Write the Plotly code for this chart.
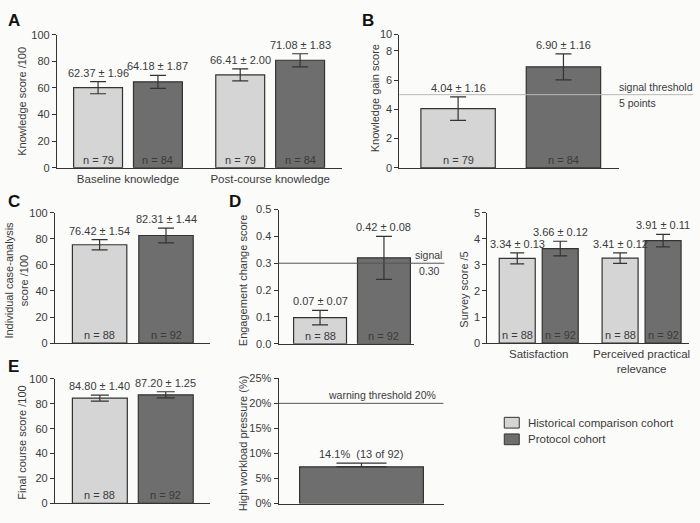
import plotly.graph_objects as go

W, H = 700, 523

# =========================
# Data
# =========================
cohorts = ["Historical comparison cohort", "Protocol cohort"]

# A - knowledge score /100
a_groups = ["Baseline knowledge", "Post-course knowledge"]
a_hist = [60.2, 69.8]
a_hist_err = [4.6, 4.5]
a_prot = [64.6, 80.8]
a_prot_err = [4.9, 4.9]
a_hist_lbl = ["62.37 ± 1.96", "66.41 ± 2.00"]
a_prot_lbl = ["64.18 ± 1.87", "71.08 ± 1.83"]
a_n_hist = [79, 79]
a_n_prot = [84, 84]

# B - knowledge gain score
b_hist = [4.05]
b_hist_err = [0.8]
b_prot = [6.9]
b_prot_err = [0.89]
b_hist_lbl = ["4.04 ± 1.16"]
b_prot_lbl = ["6.90 ± 1.16"]
b_n_hist = [79]
b_n_prot = [84]
b_threshold = 5

# C - individual case-analysis score /100
c_hist = [75.5]
c_hist_err = [4.0]
c_prot = [82.6]
c_prot_err = [5.6]
c_hist_lbl = ["76.42 ± 1.54"]
c_prot_lbl = ["82.31 ± 1.44"]
c_n_hist = [88]
c_n_prot = [92]

# D - engagement change score
d_hist = [0.097]
d_hist_err = [0.027]
d_prot = [0.32]
d_prot_err = [0.08]
d_hist_lbl = ["0.07 ± 0.07"]
d_prot_lbl = ["0.42 ± 0.08"]
d_n_hist = [88]
d_n_prot = [92]
d_threshold = 0.30

# D (right) - survey score /5
s_groups = ["Satisfaction", "Perceived practical<br>relevance"]
s_hist = [3.25, 3.26]
s_hist_err = [0.21, 0.2]
s_prot = [3.63, 3.93]
s_prot_err = [0.28, 0.24]
s_hist_lbl = ["3.34 ± 0.13", "3.41 ± 0.12"]
s_prot_lbl = ["3.66 ± 0.12", "3.91 ± 0.11"]
s_n_hist = [88, 88]
s_n_prot = [92, 92]

# E - final course score /100
e_hist = [84.6]
e_hist_err = [2.4]
e_prot = [87.2]
e_prot_err = [2.5]
e_hist_lbl = ["84.80 ± 1.40"]
e_prot_lbl = ["87.20 ± 1.25"]
e_n_hist = [88]
e_n_prot = [92]

# E (right) - high workload pressure (%)
w_prot = [7.34]
w_prot_err = [0.75]
w_prot_lbl = ["14.1%  (13 of 92)"]
w_threshold = 20

# =========================
# Styling
# =========================
FONT = "Liberation Sans, Arial, sans-serif"
TXT = "#3a3a3a"
EDGE = "#333333"
C_HIST = "#d5d5d5"
C_PROT = "#6e6e6e"
BG = "#fbfbfa"
LBL = 11     # value labels above bars
NOTE = 10.5  # threshold notes


def px(x):
    return x / W


def py(y):
    return (H - y) / H


fig = go.Figure()
layout = {}


def ax_names(i):
    return ("x" if i == 1 else f"x{i}"), ("y" if i == 1 else f"y{i}")


def setup_axes(i, xpx, ypx, xrange, yrange, ticks=None, ticktext=None,
               tickvals=None, yticktext=None):
    xa = dict(domain=[px(xpx[0]), px(xpx[1])], range=xrange, showline=True,
              linecolor=EDGE, linewidth=1, showgrid=False, zeroline=False,
              ticks="", fixedrange=True,
              tickfont=dict(size=11.5, color=TXT, family=FONT))
    if ticks is not None:
        xa.update(tickmode="array", tickvals=ticks, ticktext=ticktext)
    else:
        xa.update(showticklabels=False)
    ya = dict(domain=[py(ypx[1]), py(ypx[0])], range=yrange, showline=True,
              linecolor=EDGE, linewidth=1, showgrid=False, zeroline=False,
              ticks="outside", ticklen=4, tickcolor=EDGE, fixedrange=True,
              tickfont=dict(size=11, color=TXT, family=FONT))
    if tickvals is not None:
        ya.update(tickmode="array", tickvals=tickvals, ticktext=yticktext)
    xn, yn = ax_names(i)
    layout["xaxis" if i == 1 else f"xaxis{i}"] = dict(xa, anchor=yn)
    layout["yaxis" if i == 1 else f"yaxis{i}"] = dict(ya, anchor=xn)


def bars(i, ys, errs, lbls, ns, color, off, w, cap, lo_errs=None):
    xn, yn = ax_names(i)
    xs = list(range(len(ys)))
    ed = dict(type="data", array=errs, color=EDGE, thickness=1.2, width=cap)
    if lo_errs is not None:
        ed.update(symmetric=False, arrayminus=lo_errs)
    fig.add_trace(go.Bar(
        x=xs, y=ys, width=w, offset=off,
        marker=dict(color=color, line=dict(color=EDGE, width=1.2)),
        error_y=ed, xaxis=xn, yaxis=yn, showlegend=False, hoverinfo="skip"
    ))
    for x, y, e, t, n in zip(xs, ys, errs, lbls, ns):
        cx = x + off + w / 2
        fig.add_annotation(x=cx, y=y + e, xref=xn, yref=yn, text=t,
                           showarrow=False, yanchor="bottom", yshift=1,
                           font=dict(size=LBL, color=TXT, family=FONT))
        if n is not None:
            fig.add_annotation(x=cx, y=0, xref=xn, yref=yn, text=f"n = {n}",
                               showarrow=False, yanchor="bottom", yshift=0,
                               font=dict(size=11, color=TXT, family=FONT))


def pair(i, hist, hist_err, hist_lbl, n_hist, prot, prot_err, prot_lbl, n_prot,
         w, hg, cap=8):
    bars(i, hist, hist_err, hist_lbl, n_hist, C_HIST, -hg - w, w, cap)
    bars(i, prot, prot_err, prot_lbl, n_prot, C_PROT, hg, w, cap)


def ytitle(text, x, y):
    fig.add_annotation(xref="paper", yref="paper", x=px(x), y=py(y), text=text,
                       textangle=-90, showarrow=False, xanchor="center",
                       yanchor="middle",
                       font=dict(size=11, color=TXT, family=FONT))


def letter(text, x, y):
    fig.add_annotation(xref="paper", yref="paper", x=px(x), y=py(y),
                       text=f"<b>{text}</b>", showarrow=False, xanchor="left",
                       yanchor="middle",
                       font=dict(size=17, color="#111111", family=FONT))


def threshold(i, value, x0, x1, color):
    _, yn = ax_names(i)
    fig.add_shape(type="line", xref="paper", yref=yn, x0=px(x0), x1=px(x1),
                  y0=value, y1=value, line=dict(color=color, width=1))


def note(i, value, x, text, xanchor, yanchor):
    _, yn = ax_names(i)
    fig.add_annotation(xref="paper", yref=yn, x=px(x), y=value, text=text,
                       showarrow=False, xanchor=xanchor, yanchor=yanchor,
                       yshift=0, font=dict(size=NOTE, color=TXT, family=FONT))


# =========================
# Panel A
# =========================
setup_axes(1, (57, 342), (29.4, 165.5), [-0.5, 1.502], [0, 100],
           ticks=[0, 1], ticktext=a_groups, tickvals=[0, 20, 40, 60, 80, 100],
           yticktext=["0", "20", "40", "60", "80", "100"])
pair(1, a_hist, a_hist_err, a_hist_lbl, a_n_hist,
     a_prot, a_prot_err, a_prot_lbl, a_n_prot, w=0.344, hg=0.0386)
ytitle("Knowledge score /100", 22, 97)
letter("A", 6, 15)

# =========================
# Panel B
# =========================
setup_axes(2, (400, 620), (29.3, 165.7), [-1.115, 1.085], [0, 9.1],
           tickvals=[0, 2, 4, 6, 8, 9.1], yticktext=["0", "2", "4", "6", "8", "10"])
pair(2, b_hist, b_hist_err, b_hist_lbl, b_n_hist,
     b_prot, b_prot_err, b_prot_lbl, b_n_prot, w=0.745, hg=0.155)
threshold(2, b_threshold, 400, 694, "#b8b8b8")
note(2, b_threshold, 618, "signal threshold", "left", "bottom")
note(2, b_threshold, 618, "5 points", "left", "top")
ytitle("Knowledge gain score", 375, 94)
letter("B", 361, 15)

# =========================
# Panel C
# =========================
setup_axes(3, (55, 210), (211.7, 345), [-0.78, 0.77], [0, 100],
           tickvals=[0, 20, 40, 60, 80, 100],
           yticktext=["0", "20", "40", "60", "80", "100"])
pair(3, c_hist, c_hist_err, c_hist_lbl, c_n_hist,
     c_prot, c_prot_err, c_prot_lbl, c_n_prot, w=0.545, hg=0.06)
ytitle("Individual case-analysis<br>score /100", 16, 280)
letter("C", 6, 200)

# =========================
# Panel D (engagement)
# =========================
setup_axes(4, (279, 415), (208.3, 345.7), [-0.735, 0.625], [0, 0.5],
           tickvals=[0, 0.1, 0.2, 0.3, 0.4, 0.5],
           yticktext=["0.0", "0.1", "0.2", "0.3", "0.4", "0.5"])
pair(4, d_hist, d_hist_err, d_hist_lbl, d_n_hist,
     d_prot, d_prot_err, d_prot_lbl, d_n_prot, w=0.53, hg=0.055)
threshold(4, d_threshold, 279, 445, "#555555")
note(4, d_threshold, 429, "signal", "center", "bottom")
note(4, d_threshold, 430, f"{d_threshold:.2f}", "center", "top")
ytitle("Engagement change score", 243, 281)
letter("D", 227, 200)

# =========================
# Panel D (survey)
# =========================
setup_axes(5, (488, 690), (211.7, 345), [-0.5, 1.461], [0, 5],
           ticks=[0, 1], ticktext=s_groups, tickvals=[0, 1, 2, 3, 4, 5],
           yticktext=["0", "1", "2", "3", "4", "5"])
pair(5, s_hist, s_hist_err, s_hist_lbl, s_n_hist,
     s_prot, s_prot_err, s_prot_lbl, s_n_prot, w=0.35, hg=0.034, cap=7)
ytitle("Survey score /5", 465, 290)

# =========================
# Panel E (final score)
# =========================
setup_axes(6, (55, 210), (381.7, 509), [-0.78, 0.77], [0, 100],
           tickvals=[0, 20, 40, 60, 80, 100],
           yticktext=["0", "20", "40", "60", "80", "100"])
pair(6, e_hist, e_hist_err, e_hist_lbl, e_n_hist,
     e_prot, e_prot_err, e_prot_lbl, e_n_prot, w=0.55, hg=0.055, cap=9)
ytitle("Final course score /100", 22, 447)
letter("E", 6, 369)

# =========================
# Panel E (workload)
# =========================
setup_axes(7, (279, 445), (381, 509.3), [-0.83, 0.83], [0, 25],
           tickvals=[0, 5, 10, 15, 20, 25],
           yticktext=["0%", "5%", "10%", "15%", "20%", "25%"])
bars(7, w_prot, w_prot_err, w_prot_lbl, [None], C_PROT, -0.62, 1.24, 25,
     lo_errs=[0])
threshold(7, w_threshold, 279, 444, "#555555")
note(7, w_threshold, 439, f"warning threshold {w_threshold}%", "right", "bottom")
ytitle("High workload pressure (%)", 243, 448)

# =========================
# Legend (drawn by hand)
# =========================
for k, (name, col) in enumerate(zip(cohorts, [C_HIST, C_PROT])):
    top = 421 + k * 17
    fig.add_shape(type="rect", xref="paper", yref="paper",
                  x0=px(505), x1=px(520), y0=py(top + 11), y1=py(top),
                  fillcolor=col, line=dict(color=EDGE, width=1))
    fig.add_annotation(xref="paper", yref="paper", x=px(527), y=py(top + 5.5),
                       text=name, showarrow=False, xanchor="left",
                       yanchor="middle",
                       font=dict(size=11.5, color=TXT, family=FONT))

fig.update_layout(
    **layout,
    width=W, height=H,
    margin=dict(l=0, r=0, t=0, b=0),
    paper_bgcolor=BG, plot_bgcolor=BG,
    font=dict(family=FONT, color=TXT),
    barmode="overlay",
    showlegend=False,
)

# page body has an 8px default margin; drop it so the figure fills the window
fig.write_html("out.html",
               config={"displayModeBar": False},
               post_script="document.body.style.margin='0';"
                           "document.body.style.overflow='hidden';")
